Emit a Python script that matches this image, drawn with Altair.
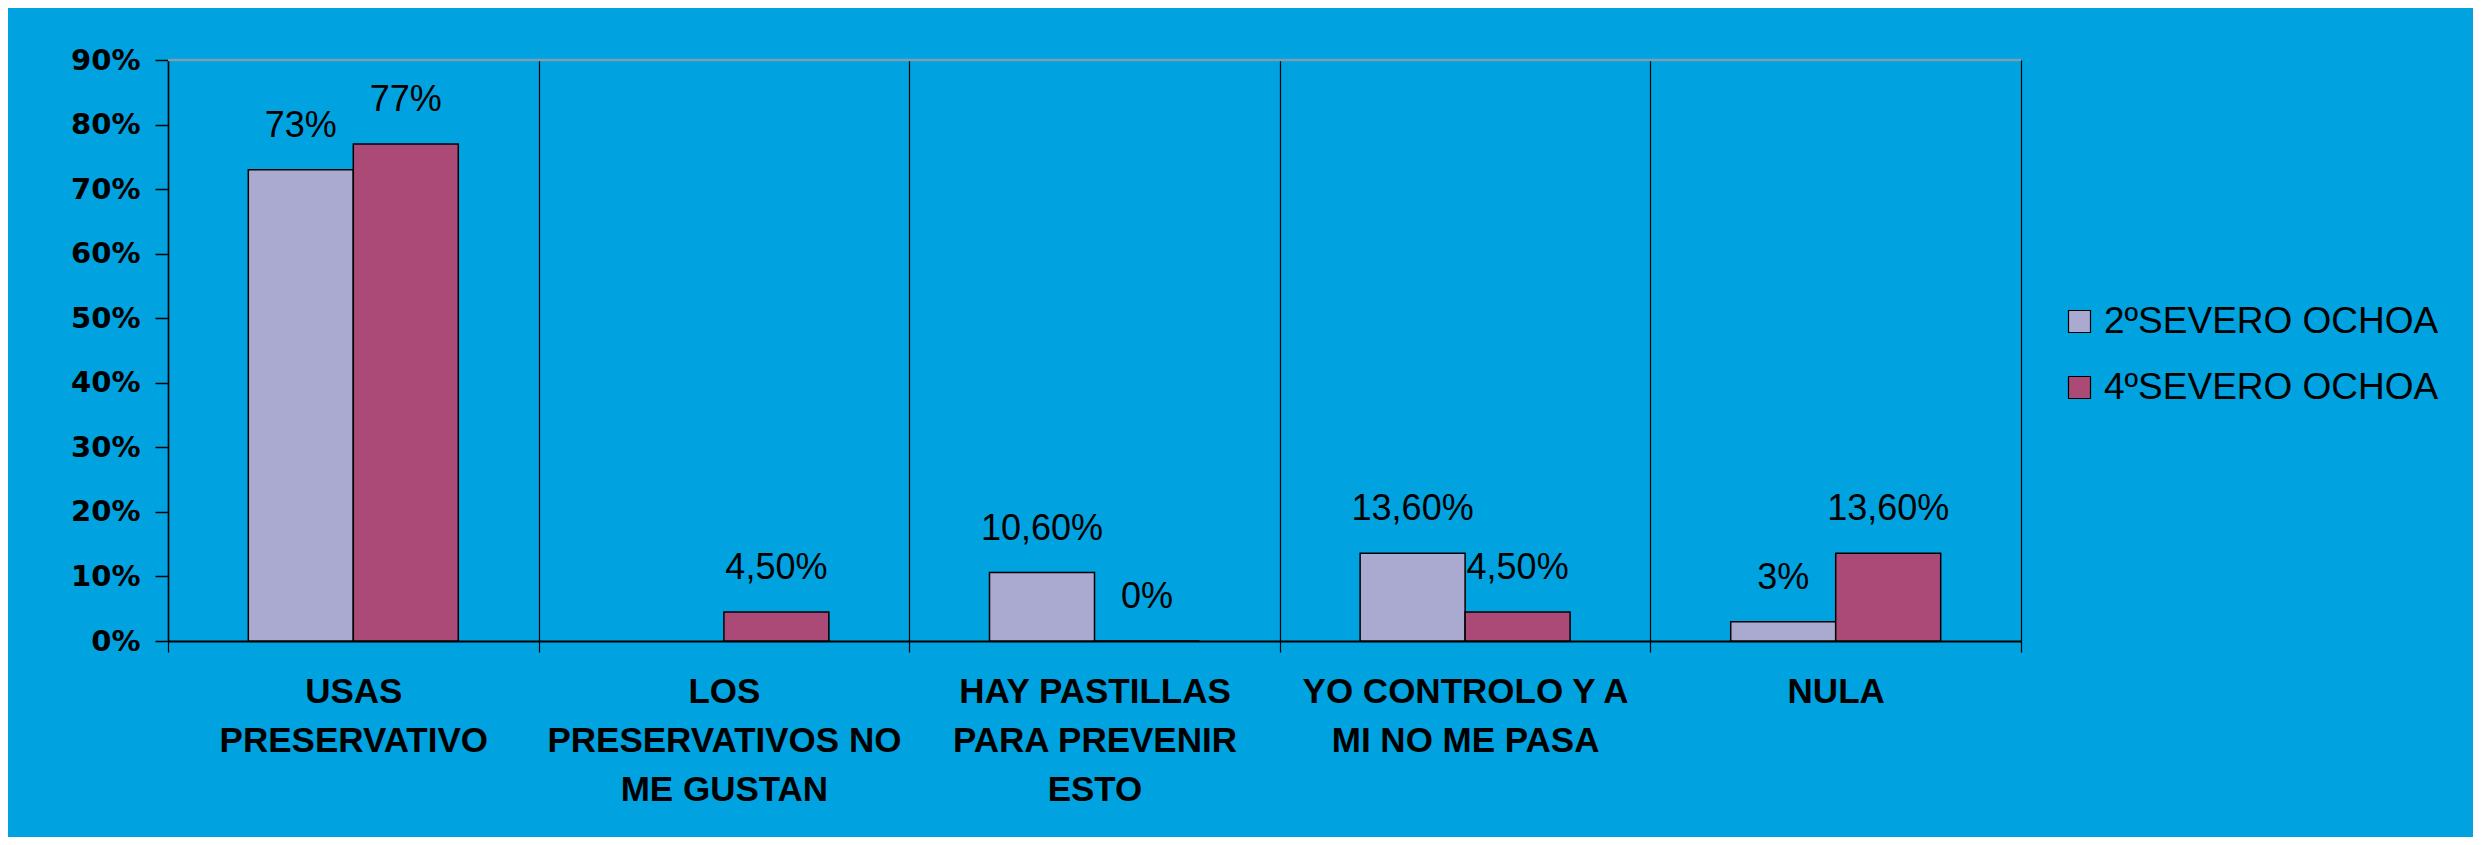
import altair as alt
import pandas as pd

categories = [
    "USAS\nPRESERVATIVO",
    "LOS\nPRESERVATIVOS NO\nME GUSTAN",
    "HAY PASTILLAS\nPARA PREVENIR\nESTO",
    "YO CONTROLO Y A\nMI NO ME PASA",
    "NULA",
]
series = ["2ºSEVERO OCHOA", "4ºSEVERO OCHOA"]
colors = ["#aaa9d0", "#ab4a76"]
values_2 = [0.73, None, 0.106, 0.136, 0.03]
values_4 = [0.77, 0.045, 0.0, 0.045, 0.136]
labels_2 = ["73%", "", "10,60%", "13,60%", "3%"]
labels_4 = ["77%", "4,50%", "0%", "4,50%", "13,60%"]
y_ticks = [0, 0.1, 0.2, 0.3, 0.4, 0.5, 0.6, 0.7, 0.8, 0.9]

rows = []
for c, v, l in zip(categories, values_2, labels_2):
    rows.append({"category": c, "series": series[0], "value": v, "label": l})
for c, v, l in zip(categories, values_4, labels_4):
    rows.append({"category": c, "series": series[1], "value": v, "label": l})
df = pd.DataFrame(rows)
df = df[df["value"].notna()]

x_enc = alt.X(
    "category:N",
    sort=categories,
    scale=alt.Scale(paddingInner=0, paddingOuter=0),
    axis=alt.Axis(
        title=None,
        labelAngle=0,
        grid=True,
        gridColor="black",
        gridWidth=1.2,
        tickBand="extent",
        ticks=True,
        tickColor="black",
        tickSize=11,
        tickWidth=1.2,
        domainColor="black",
        domainWidth=2,
        labelExpr="split(datum.label, '\\n')",
        labelFont="Liberation Sans",
        labelFontWeight="bold",
        labelFontSize=35,
        labelLineHeight=49,
        labelColor="black",
        labelPadding=22,
        labelBaseline="top",
        labelLimit=0,
    ),
)
xoff = alt.XOffset(
    "series:N", sort=series, scale=alt.Scale(paddingInner=0, paddingOuter=0.765)
)
y_enc = alt.Y(
    "value:Q",
    scale=alt.Scale(domain=[0, 0.9], nice=False, zero=True),
    axis=alt.Axis(
        title=None,
        values=y_ticks,
        format=".0%",
        grid=False,
        domainColor="black",
        domainWidth=1.5,
        tickColor="black",
        tickSize=13,
        tickWidth=1.5,
        labelFont="DejaVu Sans",
        labelFontWeight="bold",
        labelFontSize=29,
        labelColor="black",
        labelPadding=15,
    ),
)

bars = alt.Chart(df).mark_bar(stroke="black", strokeWidth=1.5).encode(
    x=x_enc,
    xOffset=xoff,
    y=y_enc,
    color=alt.Color(
        "series:N",
        sort=series,
        scale=alt.Scale(domain=series, range=colors),
        legend=alt.Legend(
            title=None,
            orient="none",
            legendX=1893,
            legendY=243,
            padding=0,
            symbolType="square",
            symbolSize=484,
            symbolStrokeColor="black",
            symbolStrokeWidth=1.2,
            symbolOpacity=1,
            labelFont="Liberation Sans",
            labelFontSize=37,
            labelColor="black",
            labelOffset=6,
            rowPadding=28,
            labelLimit=0,
        ),
    ),
)

text = alt.Chart(df).mark_text(
    dy=-44, baseline="middle", align="center",
    font="Liberation Sans", fontSize=36, color="black",
).encode(
    x=alt.X("category:N", sort=categories),
    xOffset=alt.XOffset("series:N", sort=series),
    y="value:Q",
    text="label:N",
)

top_df = pd.DataFrame({"value": [0.9]})
top = alt.Chart(top_df).mark_rule(color="#7a9fb5", strokeWidth=2.5).encode(y="value:Q")

chart = alt.layer(bars, text, top).properties(
    width=1853,
    height=581,
    autosize=alt.AutoSizeParams(type="none"),
    padding={"left": 160, "top": 52, "right": 452, "bottom": 196},
).configure(background="#00a2df").configure_view(stroke=None)

chart.save("out.html", embed_options={"renderer": "svg", "actions": False})
